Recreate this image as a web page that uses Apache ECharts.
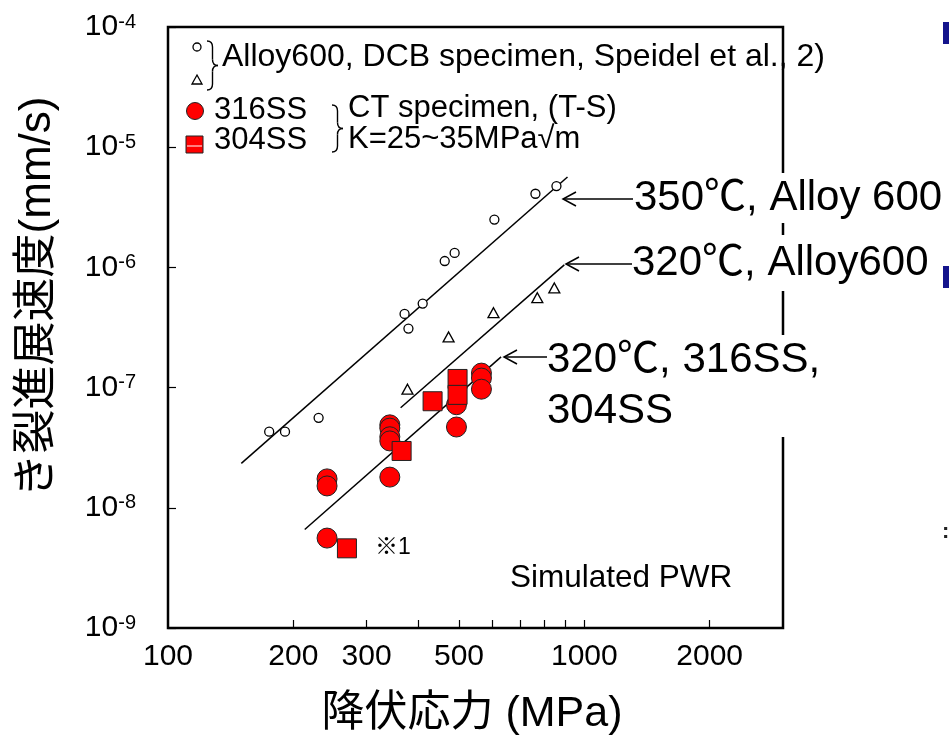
<!DOCTYPE html>
<html>
<head>
<meta charset="utf-8">
<script src="https://cdn.jsdelivr.net/npm/echarts@6.0.0/dist/echarts.min.js"></script>
<style>
html, body { margin: 0; padding: 0; background: #fff; }
#chart { width: 949px; height: 739px; }
</style>
</head>
<body>
<div id="chart"></div>
<script>
// 降伏応力 (MPa) / き裂進展速度 (mm/s)
var alloy350Stress = [175, 191, 230, 370, 378, 409, 462, 488, 608, 763, 857];
var alloy350Rate = [4.3e-8, 4.3e-8, 5.6e-8, 4.1e-7, 3.1e-7, 5.0e-7, 1.13e-6, 1.32e-6, 2.5e-6, 4.1e-6, 4.75e-6];

var alloy320Stress = [376, 472, 605, 771, 847];
var alloy320Rate = [9.7e-8, 2.64e-7, 4.2e-7, 5.6e-7, 6.75e-7];

var ss316Stress = [241, 241, 241, 341, 341, 341, 341, 341, 493, 493, 566, 566, 566];
var ss316Rate = [1.74e-8, 1.52e-8, 5.6e-9, 4.9e-8, 4.6e-8, 3.9e-8, 3.6e-8, 1.8e-8, 7.2e-8, 4.7e-8, 1.32e-7, 1.2e-7, 9.7e-8];

var ss304Stress = [269, 364, 432, 496, 496];
var ss304Rate = [4.6e-9, 2.97e-8, 7.7e-8, 1.18e-7, 8.7e-8];

// 回帰線 (両端)
var fit350Stress = [150, 911];
var fit350Rate = [2.34e-8, 5.65e-6];
var fit320Stress = [362, 895];
var fit320Rate = [6.8e-8, 1.05e-6];
var fitSSStress = [213, 631];
var fitSSRate = [6.6e-9, 1.8e-7];

// 軸
var xMin = 100, xMax = 3000;
var xLabelValues = [100, 200, 300, 500, 1000, 2000];
var xTickValues = [200, 300, 400, 500, 600, 700, 800, 900, 1000, 2000];
var yExpMin = -9, yExpMax = -4;

var FONT = "'Liberation Sans', 'Noto Sans CJK JP', sans-serif";

function toLog(xs, ys) {
    var out = [];
    for (var i = 0; i < xs.length; i++) {
        out.push([Math.log10(xs[i]), Math.log10(ys[i])]);
    }
    return out;
}

function txt(x, y, s, size, extra) {
    var style = {
        text: s, x: 0, y: 0, fill: '#000',
        fontSize: size, fontFamily: FONT,
        textAlign: 'left', textVerticalAlign: 'middle'
    };
    for (var k in extra) style[k] = extra[k];
    return { type: 'text', x: x, y: y, z: 100, style: style };
}

// 中括弧 "}"
function brace(x, y0, y1, w) {
    var m = (y0 + y1) / 2, h = w / 2, r = 6;
    var st = { stroke: '#000', lineWidth: 1.4, fill: 'none' };
    return [
        { type: 'bezierCurve', z: 100, shape: { x1: x, y1: y0, x2: x + h, y2: y0 + r, cpx1: x + h, cpy1: y0 }, style: st },
        { type: 'line', z: 100, shape: { x1: x + h, y1: y0 + r, x2: x + h, y2: m - r }, style: st },
        { type: 'bezierCurve', z: 100, shape: { x1: x + h, y1: m - r, x2: x + w, y2: m, cpx1: x + h, cpy1: m }, style: st },
        { type: 'bezierCurve', z: 100, shape: { x1: x + w, y1: m, x2: x + h, y2: m + r, cpx1: x + h, cpy1: m }, style: st },
        { type: 'line', z: 100, shape: { x1: x + h, y1: m + r, x2: x + h, y2: y1 - r }, style: st },
        { type: 'bezierCurve', z: 100, shape: { x1: x + h, y1: y1 - r, x2: x, y2: y1, cpx1: x + h, cpy1: y1 }, style: st }
    ];
}

// 矢印 (左向き)
function arrow(tipX, tailX, y) {
    var st = { stroke: '#000', lineWidth: 1.5, fill: 'none' };
    return [
        { type: 'line', z: 100, shape: { x1: tipX, y1: y, x2: tailX, y2: y }, style: st },
        { type: 'polyline', z: 100, shape: { points: [[tipX + 13, y - 7], [tipX, y], [tipX + 13, y + 7]] }, style: st }
    ];
}

var chart = echarts.init(document.getElementById('chart'));

var graphics = [];
// 凡例
graphics.push({ type: 'circle', z: 100, shape: { cx: 197, cy: 47, r: 4 }, style: { fill: '#fff', stroke: '#000', lineWidth: 1.3 } });
graphics.push({ type: 'polygon', z: 100, shape: { points: [[197, 75], [202, 84], [192, 84]] }, style: { fill: '#fff', stroke: '#000', lineWidth: 1.3 } });
graphics = graphics.concat(brace(207, 41, 90, 11));
graphics.push(txt(222, 57, 'Alloy600, DCB specimen, Speidel et al., 2)', 32));
graphics.push({ type: 'circle', z: 100, shape: { cx: 195, cy: 111, r: 8.5 }, style: { fill: '#ff0000', stroke: '#222', lineWidth: 1 } });
graphics.push({ type: 'rect', z: 100, shape: { x: 186, y: 136, width: 17, height: 17 }, style: { fill: '#ff0000', stroke: '#222', lineWidth: 1 } });
graphics.push({ type: 'line', z: 101, shape: { x1: 187, y1: 146, x2: 202, y2: 146 }, style: { stroke: '#fff', lineWidth: 1 } });
graphics.push(txt(214, 110, '316SS', 31));
graphics.push(txt(214, 140, '304SS', 31));
graphics = graphics.concat(brace(332, 105, 152, 11));
graphics.push(txt(348, 108, 'CT specimen, (T-S)', 31));
graphics.push(txt(348, 139, 'K=25~35MPa√m', 31));
graphics.push(txt(375, 548, '※1', 23));
graphics.push(txt(510, 578, 'Simulated PWR', 31.5));

// 注記
graphics = graphics.concat(arrow(563, 633, 199));
graphics.push(txt(634, 198, '350℃, Alloy 600', 42, { backgroundColor: '#fff', lineHeight: 50 }));
graphics = graphics.concat(arrow(566, 632, 264));
graphics.push(txt(632, 263, '320℃, Alloy600', 42, { backgroundColor: '#fff', lineHeight: 56 }));
graphics = graphics.concat(arrow(504, 547, 357));
graphics.push(txt(547, 386, '320℃, 316SS,\n304SS', 42, { backgroundColor: '#fff', lineHeight: 51 }));

// 軸タイトル
graphics.push(txt(472, 714, '降伏応力 (MPa)', 43, { textAlign: 'center' }));
graphics.push({
    type: 'text', x: 38, y: 297, rotation: Math.PI / 2, z: 100,
    style: { text: 'き裂進展速度(mm/s)', x: 0, y: 0, fill: '#000', fontSize: 44, fontFamily: FONT, textAlign: 'center', textVerticalAlign: 'middle' }
});

// 右端の装飾
graphics.push({ type: 'rect', z: 100, shape: { x: 943, y: 22, width: 7, height: 22 }, style: { fill: '#14148c' } });
graphics.push({ type: 'rect', z: 100, shape: { x: 943, y: 266, width: 7, height: 22 }, style: { fill: '#14148c' } });
graphics.push(txt(942, 532, ':', 22, { fill: '#222', fontWeight: 'bold' }));

var option = {
    animation: false,
    backgroundColor: '#fff',
    grid: {
        left: 168, top: 27, right: 166, bottom: 111,
        show: true, borderColor: '#000', borderWidth: 2.5, backgroundColor: 'transparent'
    },
    xAxis: {
        type: 'value',
        min: Math.log10(xMin),
        max: Math.log10(xMax),
        axisLine: { show: false },
        splitLine: { show: false },
        axisTick: {
            inside: true, length: 8,
            lineStyle: { color: '#000', width: 1.2 },
            customValues: xTickValues.map(Math.log10)
        },
        axisLabel: {
            customValues: xLabelValues.map(Math.log10),
            margin: 14,
            color: '#000', fontSize: 30, fontFamily: FONT,
            formatter: function (v) {
                return String(Math.round(Math.pow(10, v)));
            }
        }
    },
    yAxis: {
        type: 'value',
        min: yExpMin,
        max: yExpMax,
        interval: 1,
        axisLine: { show: false },
        splitLine: { show: false },
        axisTick: { inside: true, length: 8, lineStyle: { color: '#000', width: 1.2 } },
        axisLabel: {
            margin: 32,
            formatter: function (v) {
                return '{b|10}{s|' + v + '}';
            },
            rich: {
                b: { fontSize: 30, fontFamily: FONT, color: '#000' },
                s: { fontSize: 20, fontFamily: FONT, color: '#000', verticalAlign: 'top' }
            }
        }
    },
    series: [
        {
            type: 'line', data: toLog(fit350Stress, fit350Rate), symbol: 'none', silent: true, z: 3,
            lineStyle: { color: '#000', width: 1.5 }
        },
        {
            type: 'line', data: toLog(fit320Stress, fit320Rate), symbol: 'none', silent: true, z: 3,
            lineStyle: { color: '#000', width: 1.5 }
        },
        {
            type: 'line', data: toLog(fitSSStress, fitSSRate), symbol: 'none', silent: true, z: 3,
            lineStyle: { color: '#000', width: 1.5 }
        },
        {
            name: '350℃ Alloy600', type: 'scatter', data: toLog(alloy350Stress, alloy350Rate), z: 4,
            symbol: 'circle', symbolSize: 9,
            itemStyle: { color: '#fff', borderColor: '#000', borderWidth: 1.3, opacity: 1 }
        },
        {
            name: '320℃ Alloy600', type: 'scatter', data: toLog(alloy320Stress, alloy320Rate), z: 4,
            symbol: 'triangle', symbolSize: [11, 10],
            itemStyle: { color: '#fff', borderColor: '#000', borderWidth: 1.3, opacity: 1 }
        },
        {
            name: '316SS', type: 'scatter', data: toLog(ss316Stress, ss316Rate), z: 5,
            symbol: 'circle', symbolSize: 20,
            itemStyle: { color: '#ff0000', borderColor: '#222', borderWidth: 1, opacity: 1 }
        },
        {
            name: '304SS', type: 'scatter', data: toLog(ss304Stress, ss304Rate), z: 6,
            symbol: 'rect', symbolSize: 19,
            itemStyle: { color: '#ff0000', borderColor: '#222', borderWidth: 1, opacity: 1 }
        }
    ],
    graphic: graphics
};

chart.setOption(option, true);
</script>
</body>
</html>
